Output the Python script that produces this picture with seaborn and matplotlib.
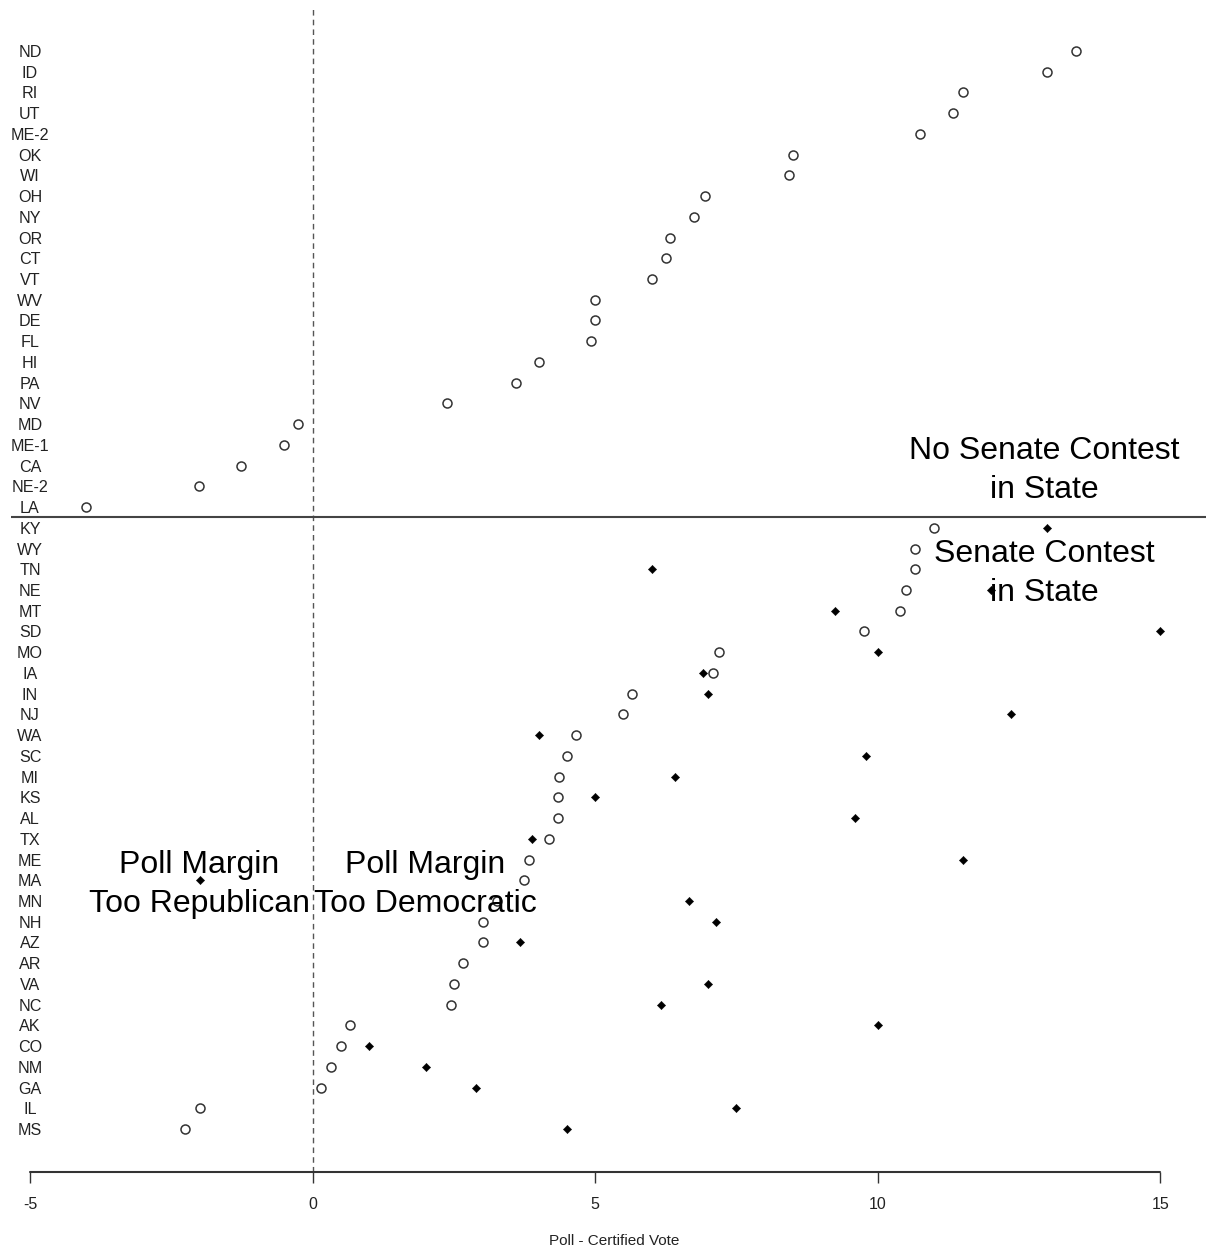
import matplotlib
matplotlib.use("Agg")
import matplotlib.pyplot as plt
import seaborn as sns
import pandas as pd
import numpy as np

# ---- data ----
states = ["ND", "ID", "RI", "UT", "ME-2", "OK", "WI", "OH", "NY", "OR", "CT", "VT",
          "WV", "DE", "FL", "HI", "PA", "NV", "MD", "ME-1", "CA", "NE-2", "LA",
          "KY", "WY", "TN", "NE", "MT", "SD", "MO", "IA", "IN", "NJ", "WA", "SC",
          "MI", "KS", "AL", "TX", "ME", "MA", "MN", "NH", "AZ", "AR", "VA", "NC",
          "AK", "CO", "NM", "GA", "IL", "MS"]
pres_error = [13.5, 13.0, 11.5, 11.34, 10.75, 8.5, 8.43, 6.95, 6.75, 6.33, 6.26, 6.01,
              5.0, 5.0, 4.93, 4.01, 3.6, 2.38, -0.26, -0.5, -1.27, -2.01, -4.01,
              11.0, 10.66, 10.66, 10.5, 10.4, 9.75, 7.19, 7.09, 5.65, 5.5, 4.66, 4.5,
              4.36, 4.35, 4.35, 4.19, 3.83, 3.74, 3.27, 3.02, 3.02, 2.66, 2.5, 2.45,
              0.66, 0.5, 0.33, 0.15, -1.99, -2.26]
senate_states = ["KY", "TN", "NE", "MT", "SD", "MO", "IA", "IN", "NJ", "WA", "SC",
                 "MI", "KS", "AL", "TX", "ME", "MA", "MN", "NH", "AZ", "VA", "NC",
                 "AK", "CO", "NM", "GA", "IL", "MS"]
senate_error = [13.0, 6.0, 12.0, 9.25, 15.0, 10.0, 6.9, 7.0, 12.35, 4.0, 9.8,
                6.42, 5.0, 9.6, 3.89, 11.5, -1.99, 6.66, 7.14, 3.67, 7.0, 6.17,
                10.0, 1.0, 2.01, 2.89, 7.5, 4.5]
x_ticks = [-5, 0, 5, 10, 15]
annotations = ["No Senate Contest\nin State", "Senate Contest\nin State",
               "Poll Margin\nToo Republican", "Poll Margin\nToo Democratic"]
annot_x = [12.95, 12.95, -2, 2]
annot_row = [31.77, 26.8, 11.8, 11.8]

n = len(states)
row_of = {s: n - 1 - i for i, s in enumerate(states)}
pres_df = pd.DataFrame({"state": states, "error": pres_error})
pres_df["row"] = pres_df["state"].map(row_of)
sen_df = pd.DataFrame({"state": senate_states, "error": senate_error})
sen_df["row"] = sen_df["state"].map(row_of)

sns.set_style("white")
plt.rcParams["font.family"] = ["Liberation Sans", "DejaVu Sans"]

W, H = 1206, 1253
fig = plt.figure(figsize=(W / 100, H / 100), dpi=100)
ax = fig.add_axes([11 / W, 81 / H, (W - 11) / W + 0.01, (1172 - 8) / H])

sns.scatterplot(data=pres_df, x="error", y="row", ax=ax, marker="o", s=42,
                facecolor="white", edgecolor="#333333", linewidth=1.1, zorder=3)
sns.scatterplot(data=sen_df, x="error", y="row", ax=ax, marker="D", s=18,
                color="black", edgecolor="black", linewidth=0.3, zorder=3)

ax.set_xlim(-5.336, 15.81 + 0.01 * 21.15)
ax.set_ylim(-2.07, n - 1 + 2.07)

# reference lines
ax.axvline(0, color="#555555", linestyle=(0, (4, 3)), linewidth=1.0, zorder=1)
split = row_of["KY"] + 0.5
ax.axhline(split, color="#444444", linewidth=1.5, zorder=1)

# state labels
for s in states:
    ax.text(-5, row_of[s], s, ha="center", va="center_baseline", fontsize=11.6,
            color="#222222")

# annotations
for t, x, r in zip(annotations, annot_x, annot_row):
    ax.text(x, r, t, ha="center", va="center", fontsize=23, linespacing=1.4,
            color="black", zorder=4)

# axes styling (R-like)
for side in ["left", "right", "top", "bottom"]:
    ax.spines[side].set_visible(False)
ax.set_yticks([])
ax.set_xticks(x_ticks)
ax.set_xticklabels([str(v) for v in x_ticks], fontsize=11.5, color="#222222")
ax.tick_params(axis="x", direction="out", length=8, width=1, color="#333333", pad=10,
               bottom=True)
ax.plot([x_ticks[0], x_ticks[-1]], [-2.07, -2.07], color="#333333", linewidth=1.5,
        clip_on=False, zorder=2)
ax.set_xlabel("Poll - Certified Vote", fontsize=11, color="#222222", labelpad=16)
ax.set_ylabel("")
ax.grid(False)

fig.savefig("out.png", dpi=100, facecolor="white")
